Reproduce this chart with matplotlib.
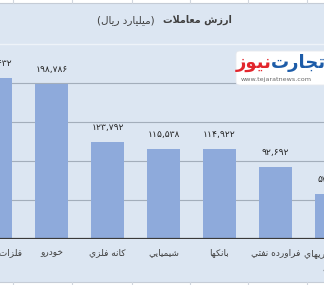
import matplotlib
matplotlib.use("Agg")
import matplotlib.pyplot as plt
from matplotlib.lines import Line2D
from matplotlib.patches import Rectangle, FancyBboxPatch

# ---------------- data ----------------
categories = ["فلزات اساسي", "خودرو", "كانه فلزي", "شيميايي", "بانكها",
              "فراورده نفتي", "واسطه گريهاي\nمالي"]
values = [206432, 198786, 123792, 115538, 114922, 92692, 57140]
grid_values = [50000, 100000, 150000, 200000]
title_main = "ارزش معاملات"
title_unit = "(ميليارد ريال)"
logo_blue = "تجارت"
logo_red = "نيوز"
logo_url = "www.tejaratnews.com"

# ---------------- Arabic shaping helper ----------------
FORMS = {
    'ء': ('\uFE80',) * 4,
    'آ': ('\uFE81', '\uFE82'), 'أ': ('\uFE83', '\uFE84'), 'ؤ': ('\uFE85', '\uFE86'),
    'إ': ('\uFE87', '\uFE88'), 'ئ': ('\uFE89', '\uFE8A', '\uFE8B', '\uFE8C'),
    'ا': ('\uFE8D', '\uFE8E'), 'ب': ('\uFE8F', '\uFE90', '\uFE91', '\uFE92'),
    'ة': ('\uFE93', '\uFE94'), 'ت': ('\uFE95', '\uFE96', '\uFE97', '\uFE98'),
    'ث': ('\uFE99', '\uFE9A', '\uFE9B', '\uFE9C'), 'ج': ('\uFE9D', '\uFE9E', '\uFE9F', '\uFEA0'),
    'ح': ('\uFEA1', '\uFEA2', '\uFEA3', '\uFEA4'), 'خ': ('\uFEA5', '\uFEA6', '\uFEA7', '\uFEA8'),
    'د': ('\uFEA9', '\uFEAA'), 'ذ': ('\uFEAB', '\uFEAC'), 'ر': ('\uFEAD', '\uFEAE'),
    'ز': ('\uFEAF', '\uFEB0'), 'س': ('\uFEB1', '\uFEB2', '\uFEB3', '\uFEB4'),
    'ش': ('\uFEB5', '\uFEB6', '\uFEB7', '\uFEB8'), 'ص': ('\uFEB9', '\uFEBA', '\uFEBB', '\uFEBC'),
    'ض': ('\uFEBD', '\uFEBE', '\uFEBF', '\uFEC0'), 'ط': ('\uFEC1', '\uFEC2', '\uFEC3', '\uFEC4'),
    'ظ': ('\uFEC5', '\uFEC6', '\uFEC7', '\uFEC8'), 'ع': ('\uFEC9', '\uFECA', '\uFECB', '\uFECC'),
    'غ': ('\uFECD', '\uFECE', '\uFECF', '\uFED0'), 'ف': ('\uFED1', '\uFED2', '\uFED3', '\uFED4'),
    'ق': ('\uFED5', '\uFED6', '\uFED7', '\uFED8'), 'ك': ('\uFED9', '\uFEDA', '\uFEDB', '\uFEDC'),
    'ل': ('\uFEDD', '\uFEDE', '\uFEDF', '\uFEE0'), 'م': ('\uFEE1', '\uFEE2', '\uFEE3', '\uFEE4'),
    'ن': ('\uFEE5', '\uFEE6', '\uFEE7', '\uFEE8'), 'ه': ('\uFEE9', '\uFEEA', '\uFEEB', '\uFEEC'),
    'و': ('\uFEED', '\uFEEE'), 'ى': ('\uFEEF', '\uFEF0'),
    'ي': ('\uFEF1', '\uFEF2', '\uFEF3', '\uFEF4'),
    'پ': ('\uFB56', '\uFB57', '\uFB58', '\uFB59'), 'چ': ('\uFB7A', '\uFB7B', '\uFB7C', '\uFB7D'),
    'ژ': ('\uFB8A', '\uFB8B'), 'ک': ('\uFB8E', '\uFB8F', '\uFB90', '\uFB91'),
    'گ': ('\uFB92', '\uFB93', '\uFB94', '\uFB95'), 'ی': ('\uFBFC', '\uFBFD', '\uFBFE', '\uFBFF'),
}
LAMALEF = {'ا': ('\uFEFB', '\uFEFC'), 'آ': ('\uFEF5', '\uFEF6'),
           'أ': ('\uFEF7', '\uFEF8'), 'إ': ('\uFEF9', '\uFEFA')}
MIRROR = {'(': ')', ')': '('}


def dual(c):
    return c in FORMS and len(FORMS[c]) == 4 and c != 'ء'


def shape_line(s):
    out = []
    i = 0
    n = len(s)
    while i < n:
        c = s[i]
        prev = s[i - 1] if i > 0 else ''
        jp = dual(prev)
        if c == 'ل' and i + 1 < n and s[i + 1] in LAMALEF:
            out.append(LAMALEF[s[i + 1]][1 if jp else 0])
            i += 2
            continue
        if c not in FORMS:
            out.append(c)
            i += 1
            continue
        f = FORMS[c]
        nxt = s[i + 1] if i + 1 < n else ''
        jn = dual(c) and nxt in FORMS
        if len(f) == 2:
            g = f[1] if jp else f[0]
        else:
            if jp and jn:
                g = f[3]
            elif jp:
                g = f[1]
            elif jn:
                g = f[2]
            else:
                g = f[0]
        out.append(g)
        i += 1
    return ''.join(MIRROR.get(ch, ch) for ch in reversed(out))


def rtl(s):
    return '\n'.join(shape_line(line) for line in s.split('\n'))


PDIG = str.maketrans('0123456789', '۰۱۲۳۴۵۶۷۸۹')


def fmt(v):
    return f"{v:,}".translate(PDIG)


# ---------------- figure ----------------
W, H = 324, 285
bg = '#dce6f2'
bar_color = '#8eaadb'
txt = '#404040'
plt.rcParams['font.family'] = ['DejaVu Sans']

fig = plt.figure(figsize=(W / 100, H / 100), dpi=100)
fig.patch.set_facecolor(bg)

spacing = 56.0
x0px = -4.5
a = -x0px / spacing
b = a + W / spacing
ax = fig.add_axes([0, 46 / H, 1, 195 / H])
ax.set_xlim(a, b)
ax.set_ylim(0, 250000)
ax.set_facecolor('none')
for s in ax.spines.values():
    s.set_visible(False)
ax.set_xticks([])
ax.set_yticks([])

xs = list(range(len(categories)))
for g in grid_values:
    ax.axhline(g, color='#a3aebb', lw=0.8, zorder=0)
ax.bar(xs, values, width=0.59, color=bar_color, zorder=2)
ax.axhline(0, color='#3a3a3a', lw=1.6, zorder=3)

for x, v in zip(xs, values):
    ax.annotate(fmt(v), (x, v), xytext=(0, 10.5), textcoords='offset points',
                ha='center', va='center', fontsize=6.6, color='#222222',
                annotation_clip=False)

for x, c in zip(xs, categories):
    ax.annotate(rtl(c), (x, 0), xytext=(0, -6.5), textcoords='offset points',
                ha='center', va='top', fontsize=6.5, color=txt,
                linespacing=1.7, annotation_clip=False)

# ---------------- decorations ----------------
def fy(py):
    return 1 - py / H

# top white strip with cell borders
fig.add_artist(Rectangle((0, fy(3)), 1, 3 / H, transform=fig.transFigure,
                         facecolor='white', edgecolor='none'))
fig.add_artist(Line2D([0, 1], [fy(3)] * 2, transform=fig.transFigure,
                      color='#c5ccd6', lw=0.8))
# bottom white strip
fig.add_artist(Rectangle((0, 0), 1, 3 / H, transform=fig.transFigure,
                         facecolor='white', edgecolor='none'))
fig.add_artist(Line2D([0, 1], [fy(282)] * 2, transform=fig.transFigure,
                      color='#c5ccd6', lw=0.8))
for vx in [13, 72, 132, 190, 248, 307]:
    fig.add_artist(Line2D([vx / W] * 2, [fy(0), fy(3)], transform=fig.transFigure,
                          color='#d0d6de', lw=0.8))
    fig.add_artist(Line2D([vx / W] * 2, [fy(282), 0], transform=fig.transFigure,
                          color='#d0d6de', lw=0.8))
# separator under title
fig.add_artist(Line2D([0, 1], [fy(43.5)] * 2, transform=fig.transFigure,
                      color='#eef3f9', lw=1.0))

# title
fig.text(232 / W, fy(20), rtl(title_main), ha='right', va='center',
         fontsize=6.9, fontweight='bold', color=txt)
fig.text(155 / W, fy(20), rtl(title_unit), ha='right', va='center',
         fontsize=7.5, color=txt)

# logo watermark
fig.add_artist(FancyBboxPatch((236 / W, fy(85)), 100 / W, 34 / H,
                              boxstyle='round,pad=0,rounding_size=0.012',
                              transform=fig.transFigure, facecolor='white',
                              edgecolor='#e6e9ee', lw=0.6))
fig.text(271 / W, fy(63), rtl(logo_blue), ha='left', va='center',
         fontsize=13, fontweight='bold', color='#1d5ca8')
fig.text(272 / W, fy(63), rtl(logo_red), ha='right', va='center',
         fontsize=13, fontweight='bold', color='#e2262d')
fig.text(241 / W, fy(79), logo_url, ha='left', va='center',
         fontsize=4.6, color='#6a6a6a')

fig.savefig('out.png', dpi=100, facecolor=fig.get_facecolor())
